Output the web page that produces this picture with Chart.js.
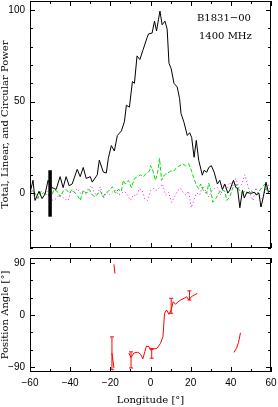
<!DOCTYPE html>
<html><head><meta charset="utf-8">
<script src="https://cdn.jsdelivr.net/npm/chart.js@4/dist/chart.umd.min.js"></script>
<style>
html,body{margin:0;padding:0;background:#fff;}
#wrap{position:relative;width:278px;height:407px;}
canvas{position:absolute;left:0;top:0;}
</style></head><body>
<div id="wrap"><canvas id="cTop" width="278" height="407"></canvas><canvas id="cBot" width="278" height="407"></canvas></div>
<script>
// ---- Data ----
const totalLon = [-60,-58.5,-57.5,-55.5,-54,-52.5,-51,-49,-47,-45,-43.5,-42,-40.5,-39,-36.5,-35,-33.5,-32,-30,-29,-26.5,-25.5,-23.5,-22,-21,-19.5,-18,-16.5,-14.5,-13,-12,-10.5,-9,-8,-6.7,-5.3,-3.8,-1.7,-1,0.8,2,3,4,4.7,5.8,7.2,8.3,9.2,10.3,11.7,13.3,14.5,15.2,16.7,18.3,19.5,20.5,21.7,22.8,24,25.8,26.7,28,29,30.3,31.7,33.3,34.5,35.8,37,38.5,39.5,41.3,42.5,43.3,44.5,45.8,46.7,48,49.2,50.5,51.7,52.8,54,55,56.2,57.5,58.7,60];
const totalPow = [0,7,-4,1,-3,-0.5,7,3,2,9,3,9,4,5,13,9,14,8,9,6,10,18,11.5,11,19,26,23,31.5,34,39,48,47,61,60,75,73,78,85,87,87.5,94,88.6,95,99.5,92,94,89.6,71,68,60,58,51.6,43.5,38.6,31.5,33,30.4,19.6,28.8,18,9.8,12.5,11.4,14,15,11.4,5,7,2,5,0,1.6,7,3,2.7,-8,1.6,-2.7,0.5,0,0,0.5,-1,0,-7.6,-2,6,0.5,1.6,0];

const linLon = [-60,-58.5,-57,-56,-54.5,-53,-51.5,-49.5,-48,-46.5,-45,-43.5,-42,-40.5,-39,-37.5,-36,-35,-33.5,-32,-30.5,-29,-27.5,-26,-25,-23.5,-22.5,-21,-19,-17.5,-16,-14.5,-13.5,-12.5,-11,-9.5,-8,-6.5,-5,-3.5,-2,-0.5,0,1,2.5,3.5,4.5,5.5,7,8.5,10,11.5,13,14.5,16,17.5,19,20.5,21.5,23,24,25,26.5,28,29,30,31,32.5,34,35.5,37,38,39.5,41,42.5,44,45.5,47,48.5,50,51.5,52.5,54,55.5,57,58.5,60];
const linPow = [0,1.5,-1,-3,1,0,-1,-2,2,1,-2,1,2,0,2,0,-2,-4,1.5,0,2,-1,-2,0,1,-2,0,1,3.5,0,2,1,7,5,7,3,8,9,10,9,11,12,15,13,7,11,19,7,10,11,12,12,14,15,16,15,16,12,8.5,4,2.5,5,1,0,5.5,2,-5,-3,0,2,1,-4,-2,3,5,2,0,1,0,1.5,0,-1,1,3,5,0,2];

const circLon = [-60,-58.5,-57.5,-56,-54.5,-53,-51.5,-50,-48.5,-47,-45.5,-44,-42.5,-41,-39.5,-38,-36.5,-35,-33.5,-32,-31,-29.5,-28,-26.5,-25,-23.5,-22,-20.5,-19,-17.5,-16,-14.5,-13,-11.5,-10,-8.5,-7,-5.5,-4,-3,-1.5,0,1.5,3,4.5,6,7.5,9,10.5,12,13.5,15,16.5,17.5,19,20.3,21.5,23,24.5,26,27.5,29,30.5,32,33.5,35,36.5,38,39.5,41,42.5,44,45.5,47,48,49.5,51,52.5,54,55.5,57,58.5,60];
const circPow = [0,1,-4,-2,0.5,-1,1,-3,-4,-3,-1,-2,-3.5,-4,1.5,0,2.5,0,1,-1,2.5,4,0,-1,3.5,-3,0.5,-1,0.5,1.5,-1,0,1,-1,-4,-1,-1.5,2.5,1,-3,-4,1.5,2.5,1.5,3,5,-1,0.5,-5,-2,1.5,2.5,0,-1,1,-8,-4,0,-1,4,1,-2,1,2.5,3,-1,4,2,6,4,8,3,5,10,6,0,-4,3,-1,-3,1,5,1];

// off-pulse noise bar
const noiseLon = [-50,-50];
const noiseVal = [-12.9,12.5];

// position angle (null = break / wrap)
const paLon = [-19.2,-18.2,null,-18.2,-17.7,null,-10.8,-9.7,-8.3,-6.3,-5,-3.8,-2.8,-2,-0.8,0,1.7,3.3,5,6.2,7,8,9.2,10.3,11.3,12.5,13.7,15,16.7,18,19.2,20.3,21.7,23.3,null,41.5,42.8,43.8,44.8];
const paDeg = [-66,-92,null,88,72,null,-66,-74,-66,-64.6,-68,-76,-63.5,-54,-55,-61,-59,-57.7,-49,-37.5,3,8.7,1.2,9,23,18.5,23,26,29,31.7,26,31.7,34.6,37.5,null,-65,-58,-48,-31];
const errLon = [-19.2,-9.7,0.6,10.3,19.4];
const errLo  = [-95,-92,-75,3,26];
const errHi  = [-38,-64,-58,29,42];

// ticks and labels
const topYLabels = [0,50,100];
const botYLabels = [-90,0,90];
const xLabels = [-60,-40,-20,0,20,40,60];
const xMinorTicks = [-60,-50,-40,-30,-20,-10,0,10,20,30,40,50,60];
const topYMinorTicks = [-30,-20,-10,0,10,20,30,40,50,60,70,80,90,100];
const botYMinorTicks = [-90,-60,-30,0,30,60,90];
const topTitle = 'Total, Linear, and Circular Power';
const botTitle = 'Position Angle [\u00b0]';
const xTitle = 'Longitude [\u00b0]';
const notes = ['B1831\u221200','1400 MHz'];

// ---- helpers ----
const pts = (xs, ys) => xs.map((x,i) => ({x: x===null?0:x, y: ys[i]}));
const fmt = v => (v<0 ? '\u2212'+Math.abs(v) : String(v));
const errPts = [];
errLon.forEach((x,i)=>{ errPts.push({x, y:errLo[i]}, {x, y:errHi[i]}, {x, y:null}); });

const frame = {
  id:'frame',
  afterDraw(chart, args, o){
    const {ctx, chartArea:a, scales} = chart;
    const xs = scales.x, ys = scales.y;
    ctx.save();
    ctx.strokeStyle = '#000'; ctx.lineWidth = 1;
    ctx.strokeRect(a.left+0.5, a.top+0.5, a.right-a.left-1, a.bottom-a.top-1);
    ctx.beginPath();
    o.xMinor.forEach(v=>{
      const p = Math.round(xs.getPixelForValue(v))+0.5;
      const L = xLabels.includes(v)?5:3;
      ctx.moveTo(p, a.bottom); ctx.lineTo(p, a.bottom-L);
      ctx.moveTo(p, a.top); ctx.lineTo(p, a.top+L);
    });
    o.yMinor.forEach(v=>{
      const p = Math.round(ys.getPixelForValue(v))+0.5;
      const L = o.yMajor.includes(v)?5:3;
      ctx.moveTo(a.left, p); ctx.lineTo(a.left+L, p);
      ctx.moveTo(a.right, p); ctx.lineTo(a.right-L, p);
    });
    ctx.stroke();
    if (o.notes) {
      ctx.fillStyle = '#000';
      ctx.font = '10px "DejaVu Serif"';
      ctx.textBaseline = 'middle';
      ctx.textAlign = 'left';
      ctx.fillText(o.notes[0], 197, 18);
      ctx.fillText(o.notes[1], 199, 36);
    }
    ctx.restore();
  }
};

const tickFont = {family:'Liberation Sans', size:10};
const titleFont = {family:'DejaVu Serif', size:10, lineHeight:1};
const noPad = s => { s.paddingTop = 0; s.paddingBottom = 0; s.paddingLeft = 0; s.paddingRight = 0; };

new Chart(document.getElementById('cTop'), {
  type:'line',
  data:{datasets:[
    {data: pts(noiseLon, noiseVal), borderColor:'#000', borderWidth:3.5, pointRadius:0, borderCapStyle:'butt'},
    {data: pts(totalLon, totalPow), borderColor:'#000', borderWidth:1, pointRadius:0},
    {data: pts(linLon, linPow), borderColor:'#00dd00', borderWidth:1, borderDash:[4,2], pointRadius:0},
    {data: pts(circLon, circPow), borderColor:'#ff00ff', borderWidth:1, borderDash:[1,2.5], pointRadius:0}
  ]},
  options:{
    responsive:false, animation:false, events:[],
    layout:{padding:{left:0, top:1, right:7, bottom:0}},
    plugins:{legend:{display:false}, tooltip:{enabled:false},
      frame:{xMinor:xMinorTicks, yMinor:topYMinorTicks, yMajor:topYLabels, notes:notes}},
    scales:{
      x:{type:'linear', min:-60, max:60, grid:{display:false, drawTicks:false}, border:{display:false},
         ticks:{display:false}, afterFit(s){ s.height = 407-248; noPad(s); }},
      y:{type:'linear', min:-30, max:105, grid:{display:false, drawTicks:false}, border:{display:false},
         afterBuildTicks(s){ s.ticks = topYLabels.map(v=>({value:v})); },
         ticks:{font:tickFont, color:'#000', padding:5, autoSkip:false, callback:v=>fmt(v)},
         title:{display:true, text:topTitle, font:titleFont, color:'#000', padding:{top:0,bottom:0}},
         afterFit(s){ s.width = 30; noPad(s); }}
    }
  },
  plugins:[frame]
});

new Chart(document.getElementById('cBot'), {
  type:'line',
  data:{datasets:[
    {data: pts(paLon, paDeg), borderColor:'#ff0000', borderWidth:1, pointRadius:0, spanGaps:false},
    {data: errPts, borderColor:'#ff0000', borderWidth:1, pointStyle:'line', pointRadius:2, pointBorderColor:'#ff0000', pointBorderWidth:1, spanGaps:false}
  ]},
  options:{
    responsive:false, animation:false, events:[],
    layout:{padding:{left:0, top:258, right:7, bottom:0}},
    plugins:{legend:{display:false}, tooltip:{enabled:false},
      frame:{xMinor:xMinorTicks, yMinor:botYMinorTicks, yMajor:botYLabels}},
    scales:{
      x:{type:'linear', min:-60, max:60, grid:{display:false, drawTicks:false}, border:{display:false},
         afterBuildTicks(s){ s.ticks = xLabels.map(v=>({value:v})); },
         ticks:{font:tickFont, color:'#000', padding:5, autoSkip:false, maxRotation:0, callback:v=>fmt(v)},
         title:{display:true, text:xTitle, font:titleFont, color:'#000', padding:{top:0,bottom:2}},
         afterFit(s){ s.height = 407-372; noPad(s); }},
      y:{type:'linear', min:-99, max:99, grid:{display:false, drawTicks:false}, border:{display:false},
         afterBuildTicks(s){ s.ticks = botYLabels.map(v=>({value:v})); },
         ticks:{font:tickFont, color:'#000', padding:5, autoSkip:false, callback:v=>fmt(v)},
         title:{display:true, text:botTitle, font:titleFont, color:'#000', padding:{top:0,bottom:0}},
         afterFit(s){ s.width = 30; noPad(s); }}
    }
  },
  plugins:[frame]
});
</script>
</body></html>
